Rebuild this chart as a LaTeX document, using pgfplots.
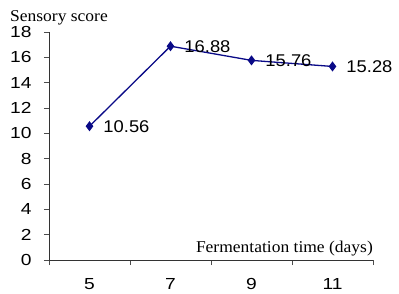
\documentclass[border=0pt]{standalone}
\usepackage{fontspec}
\setmainfont{Liberation Serif}[FakeStretch=1.06]
\newfontfamily\arialf{Liberation Sans}[FakeStretch=1.2]
\newfontfamily\ariald{Liberation Sans}[FakeStretch=1.08]
\usepackage{pgfplots}
\pgfplotsset{compat=1.18}
\definecolor{navy}{RGB}{10,10,135}
\begin{document}
\begin{tikzpicture}
\useasboundingbox (-49pt,-33pt) rectangle (350pt,260pt);
\begin{axis}[
  scale only axis, width=324pt, height=228pt,
  xmin=-0.5, xmax=3.5, ymin=0, ymax=18,
  axis x line*=bottom, axis y line*=left,
  axis line style={black!80, line width=0.8pt},
  ytick={0,2,...,18},
  xtick={-0.5,0.5,1.5,2.5,3.5}, xticklabels={},
  extra x ticks={0,1,2,3}, extra x tick labels={5,7,9,11},
  extra x tick style={major tick length=0pt, xticklabel style={yshift=-15pt}},
  tick align=outside, major tick length=5pt,
  tick style={black!70, line width=0.7pt},
  /pgf/number format/assume math mode=true,
  ticklabel style={font=\arialf\fontsize{16}{16}\selectfont},
  yticklabel style={xshift=-9pt},
  nodes near coords={\pgfmathprintnumber[fixed,fixed zerofill,precision=2]{\pgfplotspointmeta}},
  every node near coord/.style={anchor=west, xshift=10pt, yshift=0pt, font=\ariald\fontsize{17}{17}\selectfont, text=black},
  clip=false,
]
\addplot[navy, line width=1.3pt, mark=diamond*, mark size=4pt, mark options={fill=navy}] coordinates {(0,10.56) (1,16.88) (2,15.76) (3,15.28)};
\node[anchor=base west, font=\fontsize{16.5}{16.5}\selectfont, inner sep=0pt] at (rel axis cs:0,1) [xshift=-39pt, yshift=11pt] {Sensory score};
\node[anchor=base east, font=\fontsize{16.5}{16.5}\selectfont, inner sep=0pt] at (rel axis cs:1,0) [yshift=8pt] {Fermentation time (days)};
\end{axis}
\end{tikzpicture}
\end{document}
